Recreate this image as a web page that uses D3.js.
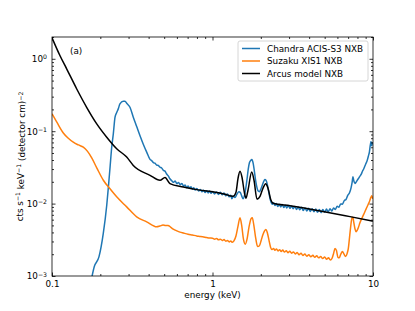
<!DOCTYPE html>
<html>
<head>
<meta charset="utf-8">
<script src="https://cdnjs.cloudflare.com/ajax/libs/d3/7.8.5/d3.min.js"></script>
<style>
body { margin: 0; background: #fff; }
text { font-family: "DejaVu Sans", sans-serif; fill: #000; }
</style>
</head>
<body>
<script>
// energies (keV) and rates
const chandraE = [0.176, 0.1835, 0.1963, 0.2087, 0.2193, 0.2243, 0.2298, 0.2355, 0.241, 0.247,
    0.253, 0.259, 0.265, 0.278, 0.285, 0.292, 0.306, 0.321, 0.337, 0.353,
    0.371, 0.389, 0.408, 0.418, 0.428, 0.438, 0.449, 0.46, 0.471, 0.482,
    0.494, 0.506, 0.518, 0.53, 0.543, 0.556,
    0.57, 0.585, 0.60, 0.615, 0.63, 0.645, 0.66, 0.675, 0.69, 0.705,
    0.72, 0.735, 0.75, 0.765, 0.78, 0.80, 0.82, 0.84, 0.86, 0.88,
    0.90, 0.92, 0.94, 0.96, 0.98, 1.00, 1.03, 1.06, 1.09, 1.12,
    1.15, 1.18, 1.21, 1.24, 1.27, 1.30, 1.32, 1.35, 1.38, 1.42,
    1.46, 1.49, 1.52, 1.55, 1.58, 1.61, 1.64, 1.67, 1.70, 1.73,
    1.76, 1.79, 1.82, 1.85, 1.88, 1.92, 1.96, 2.00, 2.04, 2.08,
    2.12, 2.16, 2.20, 2.24, 2.28, 2.32, 2.36, 2.40, 2.45, 2.50,
    2.55, 2.60, 2.66, 2.72, 2.78, 2.84, 2.90, 2.97, 3.04, 3.11,
    3.18, 3.26, 3.34, 3.42, 3.50, 3.59, 3.68, 3.77, 3.87, 3.97,
    4.07, 4.18, 4.29, 4.40, 4.51, 4.63, 4.75, 4.87, 5.00, 5.13,
    5.26, 5.40, 5.54, 5.68, 5.83, 5.98, 6.13, 6.29, 6.45, 6.62,
    6.79, 6.96, 7.14, 7.30, 7.42, 7.50, 7.60, 7.72, 7.85, 8.00,
    8.15, 8.30, 8.45, 8.60, 8.75, 8.90, 9.05, 9.20, 9.35, 9.50,
    9.62, 9.72, 9.82, 9.92, 10.0];
const chandraV = [0.0009, 0.00135, 0.00185, 0.00388, 0.0095, 0.0165, 0.031, 0.060, 0.092, 0.156,
    0.181, 0.205, 0.238, 0.260, 0.260, 0.243, 0.214, 0.156, 0.116, 0.0873,
    0.0656, 0.0514, 0.0408, 0.0392, 0.0368, 0.0362, 0.0340, 0.0336, 0.0318, 0.0310,
    0.0288, 0.0281, 0.0256, 0.0242, 0.0220, 0.0208,
    0.0197, 0.0205, 0.0188, 0.0196, 0.0182, 0.0190, 0.0174, 0.0181, 0.0166, 0.0175,
    0.0163, 0.0171, 0.0158, 0.0165, 0.0154, 0.0162, 0.0149, 0.0157, 0.0146, 0.0153,
    0.0142, 0.0151, 0.0140, 0.0149, 0.0139, 0.0147, 0.0136, 0.0145, 0.0134, 0.0143,
    0.0132, 0.0140, 0.0128, 0.0136, 0.0124, 0.0130, 0.0117, 0.0127, 0.0121, 0.0135,
    0.0146, 0.0142, 0.0128, 0.0117, 0.0128, 0.0160, 0.0215, 0.0300, 0.0370, 0.0395,
    0.0405, 0.0365, 0.0290, 0.0220, 0.0178, 0.0150, 0.0146, 0.0158, 0.0178, 0.0200,
    0.0215, 0.0208, 0.0180, 0.0145, 0.0118, 0.0104, 0.0098, 0.0103, 0.0094, 0.0100,
    0.0091, 0.0098, 0.0090, 0.0097, 0.0088, 0.0095, 0.0087, 0.0094, 0.0086, 0.0093,
    0.0085, 0.0091, 0.0083, 0.0090, 0.0082, 0.0089, 0.0080, 0.0087, 0.0079, 0.0086,
    0.0078, 0.0085, 0.0077, 0.0084, 0.0076, 0.0083, 0.0075, 0.0083, 0.0076, 0.0084,
    0.0077, 0.0085, 0.0079, 0.0087, 0.0083, 0.0092, 0.0089, 0.0099, 0.0098, 0.0110,
    0.0114, 0.0130, 0.0141, 0.0165, 0.0200, 0.0235, 0.0205, 0.0190, 0.0198, 0.0212,
    0.0225, 0.0240, 0.0255, 0.0280, 0.0300, 0.0330, 0.0360, 0.0395, 0.0450, 0.0520,
    0.0640, 0.0720, 0.0630, 0.0690, 0.0660];

const suzakuE = [0.1, 0.1074, 0.1176, 0.1258, 0.1357, 0.146, 0.1567, 0.1665, 0.1768, 0.1907,
    0.2089, 0.2298, 0.2529, 0.292, 0.337, 0.389, 0.449, 0.47, 0.4915, 0.51,
    0.528, 0.55, 0.570, 0.60, 0.627, 0.66, 0.704, 0.75, 0.797, 0.84,
    0.88, 0.92, 0.96, 1.00, 1.03, 1.06, 1.09, 1.12, 1.15, 1.18,
    1.21, 1.24, 1.27, 1.30, 1.33, 1.36, 1.40, 1.44, 1.484, 1.52,
    1.56, 1.60, 1.64, 1.69, 1.74, 1.77, 1.81, 1.86, 1.91, 1.96,
    2.01, 2.06, 2.11, 2.15, 2.20, 2.25, 2.30, 2.35, 2.40, 2.45,
    2.50, 2.56, 2.62, 2.68, 2.74, 2.81, 2.88, 2.95, 3.03, 3.11,
    3.19, 3.28, 3.37, 3.46, 3.56, 3.66, 3.76, 3.87, 3.98, 4.10,
    4.22, 4.34, 4.46, 4.59, 4.72, 4.86, 5.00, 5.14, 5.28, 5.42,
    5.56, 5.68, 5.80, 5.92, 6.04, 6.16, 6.30, 6.45, 6.60, 6.75,
    6.90, 7.02, 7.12, 7.22, 7.32, 7.42, 7.50, 7.60, 7.72, 7.85,
    7.98, 8.12, 8.28, 8.45, 8.62, 8.80, 8.98, 9.16, 9.34, 9.52,
    9.70, 9.82, 9.92, 10.0];
const suzakuV = [0.174, 0.132, 0.0945, 0.0806, 0.0706, 0.0646, 0.0602, 0.0526, 0.0428, 0.0307,
    0.0210, 0.0160, 0.0124, 0.00901, 0.00656, 0.00560, 0.00478, 0.00490, 0.00506, 0.00498,
    0.00500, 0.00470, 0.00444, 0.00420, 0.00404, 0.00392, 0.00378, 0.00368, 0.00358, 0.00352,
    0.00346, 0.00340, 0.00335, 0.00333, 0.00322, 0.00330, 0.00316, 0.00322, 0.00310, 0.00318,
    0.00303, 0.00310, 0.00296, 0.00304, 0.00292, 0.00305, 0.00356, 0.00480, 0.0064, 0.0050,
    0.0032, 0.00275, 0.00320, 0.00480, 0.00620, 0.00640, 0.00500, 0.00330, 0.00256, 0.00262,
    0.00310, 0.00370, 0.00420, 0.00440, 0.00390, 0.00310, 0.00250, 0.00232, 0.00240, 0.00226,
    0.00236, 0.00222, 0.00231, 0.00218, 0.00228, 0.00214, 0.00224, 0.00210, 0.00220, 0.00206,
    0.00215, 0.00202, 0.00211, 0.00196, 0.00206, 0.00192, 0.00201, 0.00188, 0.00197, 0.00184,
    0.00193, 0.00181, 0.00190, 0.00178, 0.00186, 0.00174, 0.00183, 0.00170, 0.00178, 0.00166,
    0.00176, 0.00205, 0.00240, 0.00225, 0.00182, 0.00178, 0.00200, 0.00218, 0.00200, 0.00186,
    0.00205, 0.00240, 0.00320, 0.00430, 0.00560, 0.00650, 0.00640, 0.00540, 0.00450, 0.00410,
    0.00430, 0.00470, 0.00540, 0.00600, 0.00660, 0.00730, 0.00810, 0.00890, 0.00980, 0.01080,
    0.01220, 0.01280, 0.01200, 0.01170];

const arcusE = [0.1, 0.1122, 0.1236, 0.1426, 0.1644, 0.190, 0.2193, 0.253, 0.292, 0.321,
    0.408, 0.471, 0.506, 0.543, 0.658, 0.797, 1.0, 1.196, 1.342, 1.401,
    1.442, 1.484, 1.527, 1.583, 1.617, 1.664, 1.755, 1.814, 1.894, 1.977,
    2.063, 2.146, 2.217, 2.315, 2.382, 3.04, 5.16, 7.19, 10.0];
const arcusV = [1.95, 1.10, 0.722, 0.383, 0.214, 0.1264, 0.0827, 0.0573, 0.0439, 0.0337,
    0.0246, 0.0210, 0.0229, 0.0189, 0.0170, 0.0156, 0.0146, 0.01346, 0.01264, 0.0144,
    0.0223, 0.0279, 0.0231, 0.0139, 0.0119, 0.0153, 0.0273, 0.0210, 0.0115, 0.0126,
    0.0163, 0.0188, 0.0163, 0.0111, 0.0101, 0.00935, 0.00761, 0.00661, 0.00573];

const seriesNames = ['Chandra ACIS-S3 NXB', 'Suzaku XIS1 NXB', 'Arcus model NXB'];
const seriesColors = ['#1f77b4', '#ff7f0e', '#000000'];

const xMajor = [0.1, 1, 10];
const xMajorLabels = ['0.1', '1', '10'];
const yMajor = [1e-3, 1e-2, 1e-1, 1];
const yExponents = ['\u22123', '\u22122', '\u22121', '0'];


let width = 415,
    height = 311;
const pLeft = 52, pRight = 373, pTop = 37, pBottom = 276;
const fs = 8.8, fsSup = 6.2;

const x = d3.scaleLog().domain([0.1, 10]).range([pLeft, pRight]);
const y = d3.scaleLog().domain([1e-3, 2]).range([pBottom, pTop]);

const svg = d3.select('body').append('svg')
    .attr('width', width)
    .attr('height', height);

svg.append('clipPath').attr('id', 'clip')
    .append('rect')
    .attr('x', pLeft).attr('y', pTop)
    .attr('width', pRight - pLeft).attr('height', pBottom - pTop);

function pairs(es, vs) {
    return es.map((e, i) => [e, vs[i]]);
}
const series = [
    pairs(chandraE, chandraV),
    pairs(suzakuE, suzakuV),
    pairs(arcusE, arcusV)
];

const line = d3.line()
    .x(d => x(d[0]))
    .y(d => y(d[1]))
    .curve(d3.curveMonotoneX);

const plot = svg.append('g').attr('clip-path', 'url(#clip)');
series.forEach((s, i) => {
    plot.append('path')
        .datum(s)
        .attr('d', line)
        .attr('fill', 'none')
        .attr('stroke', seriesColors[i])
        .attr('stroke-width', 1.5)
        .attr('stroke-linejoin', 'round');
});

// minor tick values
const xMinor = [];
[0.1, 1].forEach(b => { for (let k = 2; k < 10; k++) xMinor.push(b * k); });
const yMinor = [];
[1e-3, 1e-2, 1e-1, 1].forEach(b => { for (let k = 2; k < 10; k++) if (b * k <= 2) yMinor.push(b * k); });

function addAxis(axisFn, scale, tr, values, size, fmt) {
    const a = axisFn(scale).tickValues(values).tickSize(-size).tickPadding(5);
    a.tickFormat(fmt || (() => ''));
    const g = svg.append('g').attr('transform', tr).call(a);
    g.select('.domain').remove();
    g.selectAll('line').attr('stroke', '#000').attr('stroke-width', 0.8);
    return g;
}

const gx = addAxis(d3.axisBottom, x, `translate(0,${pBottom})`, xMajor, 3.5, (d, i) => xMajorLabels[i]);
gx.selectAll('text').attr('font-size', fs).attr('font-family', 'DejaVu Sans');
addAxis(d3.axisBottom, x, `translate(0,${pBottom})`, xMinor, 2);
addAxis(d3.axisTop, x, `translate(0,${pTop})`, xMajor, 3.5);
addAxis(d3.axisTop, x, `translate(0,${pTop})`, xMinor, 2);

const gy = addAxis(d3.axisLeft, y, `translate(${pLeft},0)`, yMajor, 3.5, () => '');
gy.selectAll('.tick text').remove();
gy.selectAll('.tick').each(function (d, i) {
    const t = d3.select(this).append('text')
        .attr('x', -5)
        .attr('dy', '0.32em')
        .attr('text-anchor', 'end')
        .attr('font-size', fs);
    t.append('tspan').text('10');
    t.append('tspan').attr('dy', '-0.45em').attr('font-size', fsSup).text(yExponents[i]);
});
addAxis(d3.axisLeft, y, `translate(${pLeft},0)`, yMinor, 2);
addAxis(d3.axisRight, y, `translate(${pRight},0)`, yMajor, 3.5);
addAxis(d3.axisRight, y, `translate(${pRight},0)`, yMinor, 2);

svg.append('rect')
    .attr('x', pLeft).attr('y', pTop)
    .attr('width', pRight - pLeft).attr('height', pBottom - pTop)
    .attr('fill', 'none')
    .attr('stroke', '#000')
    .attr('stroke-width', 0.8);

// axis titles
svg.append('text')
    .attr('x', (pLeft + pRight) / 2)
    .attr('y', 298)
    .attr('text-anchor', 'middle')
    .attr('font-size', fs)
    .text('energy (keV)');

const yl = svg.append('text')
    .attr('transform', `translate(23,${(pTop + pBottom) / 2}) rotate(-90)`)
    .attr('text-anchor', 'middle')
    .attr('font-size', fs);
yl.append('tspan').text('cts s');
yl.append('tspan').attr('dy', '-0.45em').attr('font-size', fsSup).text('\u22121');
yl.append('tspan').attr('dy', '0.45em').text(' keV');
yl.append('tspan').attr('dy', '-0.45em').attr('font-size', fsSup).text('\u22121');
yl.append('tspan').attr('dy', '0.45em').text(' (detector cm)');
yl.append('tspan').attr('dy', '-0.45em').attr('font-size', fsSup).text('\u22122');

svg.append('text')
    .attr('x', 70)
    .attr('y', 54)
    .attr('font-size', fs)
    .text('(a)');

// legend
const lg = svg.append('g').attr('transform', 'translate(238,41)');
lg.append('rect')
    .attr('width', 130).attr('height', 40)
    .attr('rx', 2)
    .attr('fill', '#fff').attr('fill-opacity', 0.8)
    .attr('stroke', '#ccc').attr('stroke-width', 0.8);
seriesNames.forEach((name, i) => {
    const yy = 7.5 + i * 12.5;
    lg.append('line')
        .attr('x1', 4).attr('x2', 22)
        .attr('y1', yy).attr('y2', yy)
        .attr('stroke', seriesColors[i])
        .attr('stroke-width', 1.5);
    lg.append('text')
        .attr('x', 29).attr('y', yy)
        .attr('dy', '0.35em')
        .attr('font-size', fs)
        .text(name);
});
</script>
</body>
</html>
